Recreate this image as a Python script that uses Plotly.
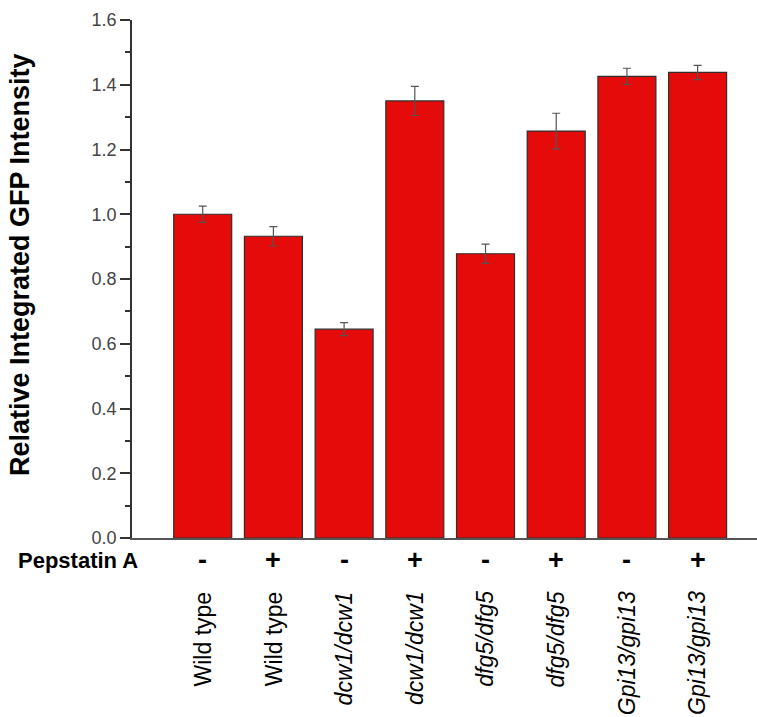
import plotly.graph_objects as go

# Strains, Pepstatin A treatment and measured intensities
strains = ["Wild type", "Wild type", "dcw1/dcw1", "dcw1/dcw1",
           "dfg5/dfg5", "dfg5/dfg5", "Gpi13/gpi13", "Gpi13/gpi13"]
italic = [False, False, True, True, True, True, True, True]
pepstatin = ["-", "+", "-", "+", "-", "+", "-", "+"]
intensity = [1.00, 0.932, 0.645, 1.35, 0.878, 1.257, 1.426, 1.438]
errors = [0.025, 0.03, 0.02, 0.045, 0.03, 0.055, 0.025, 0.022]
y_ticks = [0.0, 0.2, 0.4, 0.6, 0.8, 1.0, 1.2, 1.4, 1.6]

FONT = "Liberation Sans, Arial, sans-serif"
xs = list(range(len(strains)))

fig = go.Figure()
fig.add_trace(go.Bar(
    x=xs, y=intensity, width=0.82,
    marker=dict(color="#e50b0b", line=dict(color="#2e2e2e", width=1.2)),
    error_y=dict(type="data", array=errors, visible=True,
                 color="#555555", thickness=1.2, width=4),
    showlegend=False,
))

# Y axis title
fig.add_annotation(x=0, xref="paper", xanchor="center", xshift=-112,
                   y=0.527, yref="paper", yanchor="middle", textangle=-90,
                   text="<b>Relative Integrated GFP Intensity</b>",
                   showarrow=False,
                   font=dict(family=FONT, size=27, color="black"))

# Pepstatin A row and rotated strain labels beneath the axis
fig.add_annotation(x=0, xref="paper", xanchor="right", xshift=8,
                   y=-0.043, yref="paper", yanchor="middle",
                   text="<b>Pepstatin A</b>", showarrow=False,
                   font=dict(family=FONT, size=22, color="black"))
for i, (s, p, it) in enumerate(zip(strains, pepstatin, italic)):
    fig.add_annotation(x=i, xref="x", y=-0.043, yref="paper",
                       yanchor="middle", text=f"<b>{p}</b>", showarrow=False,
                       font=dict(family=FONT, size=27, color="black"))
    label = f"<i>{s}</i>" if it else s
    fig.add_annotation(x=i, xref="x", y=-0.099, yref="paper",
                       yanchor="top", textangle=-90, text=label,
                       showarrow=False,
                       font=dict(family=FONT, size=23, color="black"))

fig.update_layout(
    width=757, height=717,
    margin=dict(l=132, r=0, t=20, b=179),
    plot_bgcolor="white", paper_bgcolor="white",
    xaxis=dict(range=[-1.0, 7.84], showticklabels=False, ticks="",
               showgrid=False, zeroline=False, showline=True,
               linecolor="#555555", linewidth=1.5),
    yaxis=dict(range=[0, 1.6], tickvals=y_ticks,
               ticktext=[f"{v:.1f}" for v in y_ticks],
               ticks="outside", ticklen=10, tickwidth=1.5, tickcolor="#333",
               minor=dict(ticks="outside", ticklen=5, tickwidth=1.5,
                          tickcolor="#333", dtick=0.1),
               showline=True, linecolor="#333", linewidth=1.5,
               showgrid=False, zeroline=False,
               tickfont=dict(family=FONT, size=18, color="#444"),
               title=dict(text="")),
)

fig.write_html("out.html")
